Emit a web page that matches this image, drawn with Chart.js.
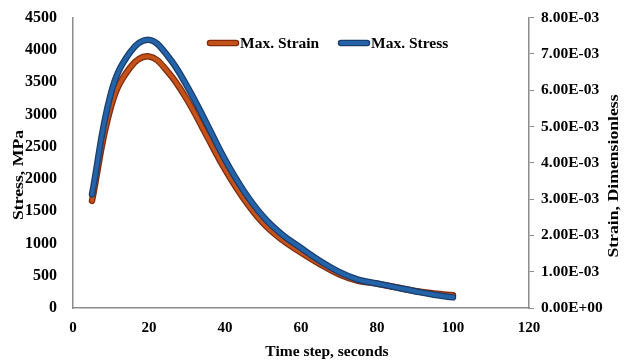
<!DOCTYPE html>
<html>
<head>
<meta charset="utf-8">
<script src="https://cdn.jsdelivr.net/npm/chart.js@4/dist/chart.umd.min.js"></script>
<style>
html,body{margin:0;padding:0;background:#fff;}
#wrap{width:625px;height:363px;}
</style>
</head>
<body>
<div id="wrap"><canvas id="c" width="625" height="363"></canvas></div>
<script>
const timeSteps = [5, 10, 15, 20, 25, 30, 35, 40, 45, 50, 55, 60, 65, 70, 75, 80, 85, 90, 95, 100];
const maxStress = [1760, 3330, 3960, 4155, 3900, 3440, 2880, 2300, 1810, 1420, 1140, 930, 730, 560, 440, 380, 320, 260, 205, 165];
const maxStrain = [0.00295, 0.00555, 0.00662, 0.00693, 0.00650, 0.00574, 0.00478, 0.00382, 0.00300, 0.00234, 0.00188, 0.00153, 0.00121, 0.00093, 0.00075, 0.00067, 0.00057, 0.00047, 0.00040, 0.00035];
const seriesLabels = ["Max. Strain", "Max. Stress"];
const xTicks = [0, 20, 40, 60, 80, 100, 120];
const axisTitles = {x: "Time step, seconds", y: "Stress, MPa", y1: "Strain, Dimensionless"};

const FONT = "'Liberation Serif', 'Times New Roman', serif";
const RED = '#C4501A', RED_DARK = '#7E2C0C';
const BLUE = '#2563A8', BLUE_DARK = '#183E6E';

const pts = (arr) => timeSteps.map((t, i) => ({x: t, y: arr[i]}));

function expFmt(v) {
  const s = Number(v).toExponential(2).split('e');
  const sign = s[1][0];
  const d = s[1].slice(1).padStart(2, '0');
  return s[0] + 'E' + sign + d;
}

const decorPlugin = {
  id: 'decor',
  afterDraw(chart) {
    const ctx = chart.ctx;
    // legend
    const items = [
      {label: seriesLabels[0], color: RED, dark: RED_DARK, x: 207},
      {label: seriesLabels[1], color: BLUE, dark: BLUE_DARK, x: 338}
    ];
    const y = 43;
    ctx.save();
    ctx.lineCap = 'round';
    items.forEach(it => {
      ctx.strokeStyle = it.dark; ctx.lineWidth = 6.5;
      ctx.beginPath(); ctx.moveTo(it.x + 3, y); ctx.lineTo(it.x + 29, y); ctx.stroke();
      ctx.strokeStyle = it.color; ctx.lineWidth = 4;
      ctx.beginPath(); ctx.moveTo(it.x + 3, y); ctx.lineTo(it.x + 29, y); ctx.stroke();
      ctx.fillStyle = '#000';
      ctx.font = 'bold 15.5px ' + FONT;
      ctx.textBaseline = 'middle';
      ctx.textAlign = 'left';
      ctx.fillText(it.label, it.x + 33, y + 1);
    });
    // x axis title
    ctx.font = 'bold 15.5px ' + FONT;
    ctx.fillStyle = '#000';
    ctx.textAlign = 'center';
    ctx.textBaseline = 'middle';
    ctx.fillText(axisTitles.x, 327, 352);
    // rotated axis titles (reading bottom to top)
    const drawV = (text, cx, cy) => {
      ctx.save();
      ctx.translate(cx, cy);
      ctx.rotate(-Math.PI / 2);
      ctx.scale(1.18, 1);
      ctx.font = 'bold 15px ' + FONT;
      ctx.fillStyle = '#000';
      ctx.textAlign = 'center';
      ctx.textBaseline = 'middle';
      ctx.fillText(text, 0, 0);
      ctx.restore();
    };
    drawV(axisTitles.y, 19, 175);
    drawV(axisTitles.y1, 614, 176);
    ctx.restore();
  }
};

const common = {
  pointRadius: 0,
  pointHoverRadius: 0,
  tension: 0.4,
  fill: false,
  borderCapStyle: 'round',
  borderJoinStyle: 'round'
};

new Chart(document.getElementById('c'), {
  type: 'line',
  data: {
    datasets: [
      Object.assign({label: seriesLabels[1], data: pts(maxStress), yAxisID: 'y', borderColor: BLUE, borderWidth: 4, order: 1}, common),
      Object.assign({label: seriesLabels[1] + ' outline', data: pts(maxStress), yAxisID: 'y', borderColor: BLUE_DARK, borderWidth: 6.5, order: 2}, common),
      Object.assign({label: seriesLabels[0], data: pts(maxStrain), yAxisID: 'y1', borderColor: RED, borderWidth: 4, order: 3}, common),
      Object.assign({label: seriesLabels[0] + ' outline', data: pts(maxStrain), yAxisID: 'y1', borderColor: RED_DARK, borderWidth: 6.5, order: 4}, common)
    ]
  },
  options: {
    responsive: false,
    animation: false,
    devicePixelRatio: 1,
    layout: {padding: {top: 8, left: 0, right: 0, bottom: 0}},
    plugins: {legend: {display: false}, tooltip: {enabled: false}},
    scales: {
      x: {
        type: 'linear', min: 0, max: 120,
        afterBuildTicks: (s) => { s.ticks = xTicks.map(v => ({value: v})); },
        grid: {display: false},
        border: {display: true, color: '#8c8c8c', width: 1.5},
        ticks: {color: '#000', font: {family: FONT, size: 15, weight: 'bold'}, padding: 3, maxRotation: 0},
        afterFit: (s) => { s.height = 55; }
      },
      y: {
        position: 'left', min: 0, max: 4500,
        ticks: {stepSize: 500, color: '#000', font: {family: FONT, size: 16, weight: 'bold'}, padding: 8, callback: (v) => String(v)},
        grid: {display: false},
        border: {display: true, color: '#8c8c8c', width: 1.5},
        afterFit: (s) => { s.width = 73; }
      },
      y1: {
        position: 'right', min: 0, max: 0.008,
        ticks: {stepSize: 0.001, color: '#000', font: {family: FONT, size: 15.5, weight: 'bold'}, padding: 7, callback: (v) => expFmt(v)},
        grid: {display: true, drawOnChartArea: false, drawTicks: true, tickLength: 5, color: '#8c8c8c', lineWidth: 1},
        border: {display: true, color: '#8c8c8c', width: 1.5},
        afterFit: (s) => { s.width = 96; }
      }
    }
  },
  plugins: [decorPlugin]
});
</script>
</body>
</html>
